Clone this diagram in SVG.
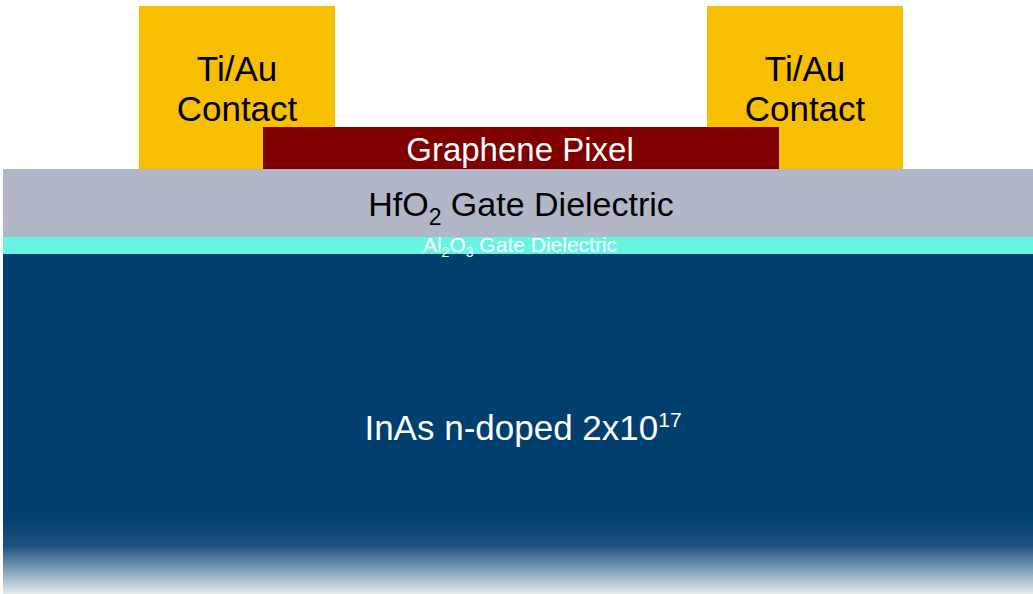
<svg xmlns="http://www.w3.org/2000/svg" width="1033" height="594" viewBox="0 0 1033 594">
<style>
text{font-family:"Liberation Sans",Arial,sans-serif;text-anchor:middle}
.contact{fill:#F8BF00}
.dark{fill:#000}
.light{fill:#fff}
</style>
<defs>
<linearGradient id="fade" x1="0" y1="0" x2="0" y2="1">
<stop offset="0" stop-color="#003F6E"/>
<stop offset="0.77" stop-color="#003F6E"/>
<stop offset="0.86" stop-color="#1E5280"/>
<stop offset="1" stop-color="#E3ECEE"/>
</linearGradient>
</defs>
<rect width="1033" height="594" fill="#fff"/>
<g id="inas">
<rect x="3" y="253" width="1030" height="341" fill="url(#fade)"/>
<text x="523" y="440" font-size="35" class="light">InAs n-doped 2x10<tspan dy="-13" font-size="21">17</tspan></text>
</g>
<g id="al2o3">
<rect x="3" y="237" width="1030" height="17" fill="#66F5E2"/>
<text x="520" y="252" font-size="21" class="light">Al<tspan dy="5" font-size="14">2</tspan><tspan dy="-5">O</tspan><tspan dy="5" font-size="14">3</tspan><tspan dy="-5"> Gate Dielectric</tspan></text>
</g>
<g id="hfo2">
<rect x="3" y="169" width="1030" height="68" fill="#B1B7C7"/>
<text x="521" y="216" font-size="34" class="dark">HfO<tspan dy="9" font-size="23">2</tspan><tspan dy="-9"> Gate Dielectric</tspan></text>
</g>
<g id="contact-left">
<rect x="139" y="6" width="196" height="163" class="contact"/>
<text x="237" y="81" font-size="35" class="dark">Ti/Au</text>
<text x="237" y="121" font-size="35" class="dark">Contact</text>
</g>
<g id="contact-right">
<rect x="707" y="6" width="196" height="163" class="contact"/>
<text x="805" y="81" font-size="35" class="dark">Ti/Au</text>
<text x="805" y="121" font-size="35" class="dark">Contact</text>
</g>
<g id="graphene">
<rect x="263" y="127" width="516" height="42" fill="#800000"/>
<text x="520" y="161" font-size="33" class="light">Graphene Pixel</text>
</g>
<g id="connectors"/>
</svg>
